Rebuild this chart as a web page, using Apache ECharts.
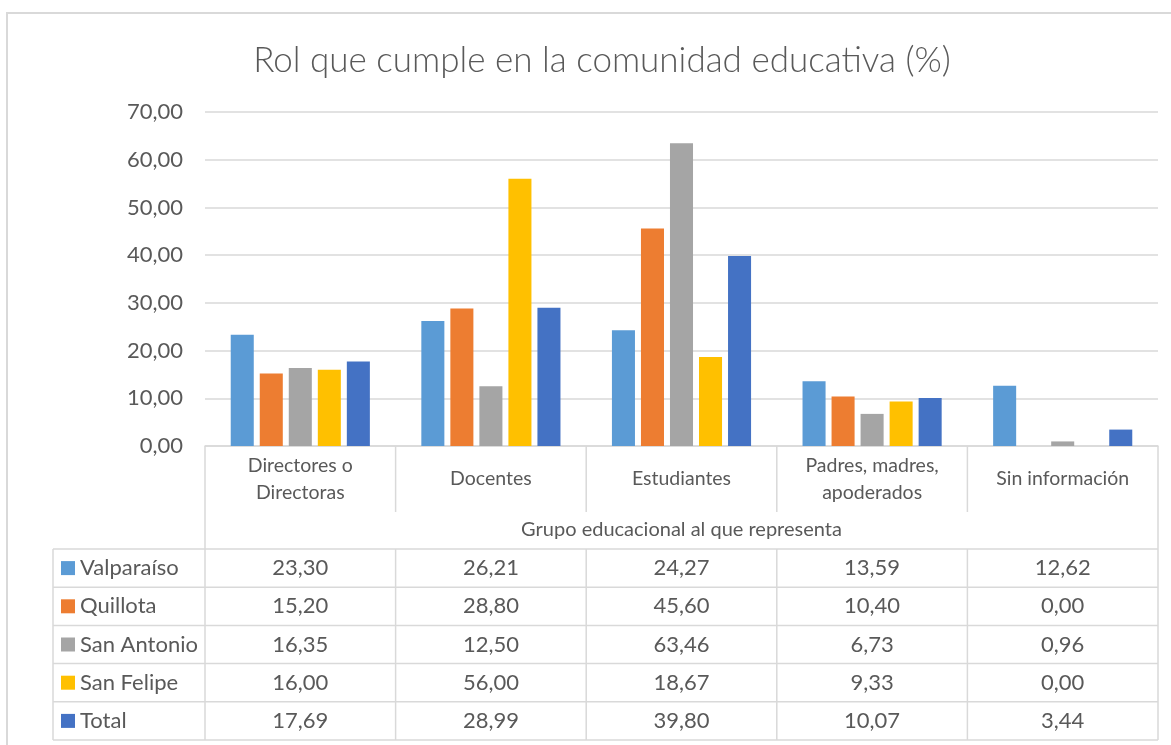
<!DOCTYPE html>
<html>
<head>
<meta charset="utf-8">
<script src="https://cdn.jsdelivr.net/npm/echarts@6/dist/echarts.min.js"></script>
<style>
  html, body { margin: 0; padding: 0; background: #fff; }
  #chart { width: 1171px; height: 745px; }
</style>
</head>
<body>
<div id="chart"></div>
<script>
const categories = ["Directores o\nDirectoras", "Docentes", "Estudiantes", "Padres, madres,\napoderados", "Sin información"]
const seriesNames = ["Valparaíso", "Quillota", "San Antonio", "San Felipe", "Total"]
const colors = ["#5B9BD5", "#ED7D31", "#A5A5A5", "#FFC000", "#4472C4"]
const valparaiso = [23.30, 26.21, 24.27, 13.59, 12.62]
const quillota = [15.20, 28.80, 45.60, 10.40, 0.00]
const sanAntonio = [16.35, 12.50, 63.46, 6.73, 0.96]
const sanFelipe = [16.00, 56.00, 18.67, 9.33, 0.00]
const total = [17.69, 28.99, 39.80, 10.07, 3.44]
const allValues = [valparaiso, quillota, sanAntonio, sanFelipe, total]

const TEXT = "#595959"
const LINE = "#d9d9d9"
const FONT = "Lato, 'Noto Sans', sans-serif"

const fmt = v => v.toFixed(2).replace(".", ",")

const chart = echarts.init(document.getElementById("chart"))

const grid = { left: 205, right: 13, top: 112, bottom: 299 }

chart.setOption({
  animation: false,
  textStyle: { fontFamily: FONT },
  title: {
    text: "Rol que cumple en la comunidad educativa (%)",
    left: 597,
    top: 38,
    textAlign: "center",
    textStyle: { fontSize: 35, fontWeight: 300, color: TEXT, fontFamily: FONT },
  },
  grid,
  xAxis: {
    type: "category",
    data: categories,
    axisLine: { lineStyle: { color: LINE, width: 1.5 } },
    axisTick: { show: false },
    axisLabel: {
      color: TEXT,
      fontSize: 19.5,
      lineHeight: 27,
      margin: 33,
      verticalAlign: "middle",
      interval: 0,
    },
    name: "Grupo educacional al que representa",
    nameLocation: "middle",
    nameGap: 84,
    nameTextStyle: { color: TEXT, fontSize: 20, verticalAlign: "middle" },
  },
  yAxis: {
    type: "value",
    min: 0,
    max: 70,
    interval: 10,
    axisLine: { show: false },
    axisTick: { show: false },
    axisLabel: { color: TEXT, fontSize: 22, margin: 22, formatter: v => fmt(v) },
    splitLine: { lineStyle: { color: LINE, width: 1.5 } },
  },
  series: seriesNames.map((name, i) => ({
    name,
    type: "bar",
    data: allValues[i],
    itemStyle: { color: colors[i] },
    barGap: "26%",
    barCategoryGap: "27%",
  })),
})

// data table under the axis, built from the same arrays
function buildTable() {
  const elements = []
  const x0 = grid.left
  const x1 = 1171 - grid.right
  const yAxis0 = 745 - grid.bottom
  const colW = (x1 - x0) / categories.length
  const legendLeft = 53
  const headerBottom = 512
  const rowTop = 549
  const rowH = (740 - rowTop) / seriesNames.length
  const line = (xa, ya, xb, yb) => ({
    type: "line",
    silent: true,
    shape: { x1: xa, y1: ya, x2: xb, y2: yb },
    style: { stroke: LINE, lineWidth: 1.5 },
  })

  // outer chart border
  elements.push({
    type: "rect",
    silent: true,
    shape: { x: 7, y: 13, width: 1200, height: 800 },
    style: { fill: null, stroke: LINE, lineWidth: 2 },
  })

  elements.push(line(x0, yAxis0, x0, 740))
  elements.push(line(x1, yAxis0, x1, 740))
  for (let c = 1; c < categories.length; c++) {
    const x = x0 + c * colW
    elements.push(line(x, yAxis0, x, headerBottom))
    elements.push(line(x, rowTop, x, 740))
  }
  elements.push(line(legendLeft, rowTop, legendLeft, 740))
  for (let r = 0; r <= seriesNames.length; r++) {
    const y = rowTop + r * rowH
    elements.push(line(legendLeft, y, x1, y))
  }

  seriesNames.forEach((name, r) => {
    const cy = rowTop + r * rowH + rowH / 2
    elements.push({
      type: "rect",
      silent: true,
      shape: { x: 61, y: cy - 7, width: 14, height: 14 },
      style: { fill: colors[r] },
    })
    elements.push({
      type: "text",
      silent: true,
      x: 80,
      y: cy,
      style: { text: name, fill: TEXT, fontSize: 22, fontFamily: FONT, verticalAlign: "middle", align: "left" },
    })
    allValues[r].forEach((v, c) => {
      const cx = chart.convertToPixel({ xAxisIndex: 0 }, c)
      elements.push({
        type: "text",
        silent: true,
        x: cx,
        y: cy,
        style: { text: fmt(v), fill: TEXT, fontSize: 22, fontFamily: FONT, verticalAlign: "middle", align: "center" },
      })
    })
  })
  return elements
}

chart.setOption({ graphic: buildTable() })
</script>
</body>
</html>
